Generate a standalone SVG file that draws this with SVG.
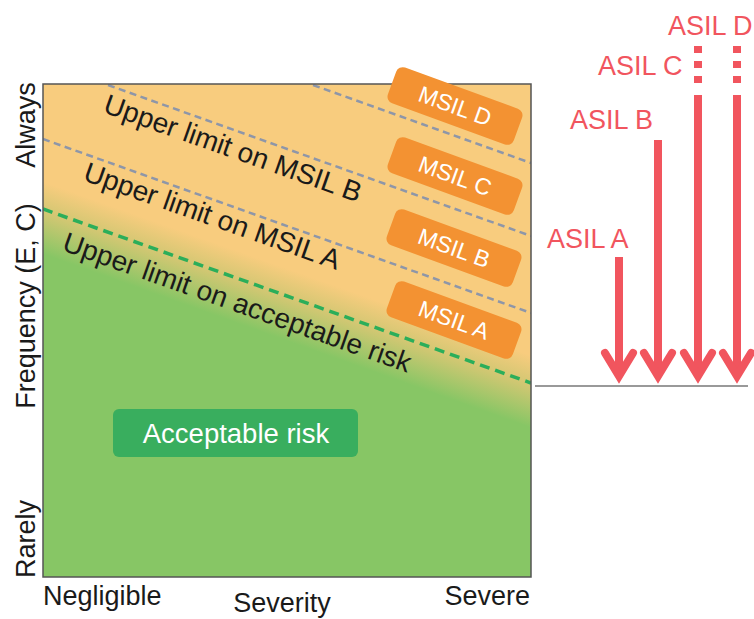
<svg xmlns="http://www.w3.org/2000/svg" width="754" height="619" viewBox="0 0 754 619">
  <style>
    text { font-family: "Liberation Sans", Arial, sans-serif; }
    .lbl { font-size: 27px; fill: #1a1a1a; }
    .diag { font-size: 28px; fill: #1a1a1a; }
    .msil rect { fill: #F39232; }
    .msil text { font-size: 23px; fill: #ffffff; text-anchor: middle; }
    .asil { font-size: 27px; fill: #F1555E; }
    .grey { stroke: #8E96A8; stroke-width: 2.5; stroke-dasharray: 7 4.5; fill: none; }
    .green { stroke: #2BAE5A; stroke-width: 3.5; stroke-dasharray: 10 6; fill: none; }
    .shaft { stroke: #F1555E; stroke-width: 8; fill: none; }
    .dash { stroke: #F1555E; stroke-width: 8; fill: none; stroke-dasharray: 7 8; }
    .head { stroke: #F1555E; stroke-width: 8; fill: none; stroke-linecap: round; stroke-linejoin: miter; }
  </style>
  <defs>
    <linearGradient id="bg" gradientUnits="userSpaceOnUse" x1="59.8" y1="161.9" x2="22.9" y2="265.5">
      <stop offset="0.22" stop-color="#F8CC7E"/>
      <stop offset="0.47" stop-color="#D4C773"/>
      <stop offset="0.84" stop-color="#87C665"/>
    </linearGradient>
    <clipPath id="plot">
      <rect x="43" y="84" width="488" height="493"/>
    </clipPath>
    <polyline id="arrowhead" points="-14,-23 0,0 14,-23" class="head"/>
  </defs>

  <!-- plot background -->
  <g id="plot-area">
    <rect x="43" y="84" width="488" height="493" fill="url(#bg)"/>
  </g>

  <!-- limit lines -->
  <g id="connectors" clip-path="url(#plot)">
    <line class="grey" x1="313" y1="85" x2="531" y2="163"/>
    <line class="grey" x1="108" y1="85" x2="531" y2="236"/>
    <line class="grey" x1="43" y1="139" x2="531" y2="313"/>
    <line class="green" x1="43" y1="209" x2="531" y2="383"/>
  </g>

  <rect x="43" y="84" width="488" height="493" fill="none" stroke="#555555" stroke-width="1.5"/>

  <g id="label-msil-b">
    <text class="diag" transform="translate(102,112) rotate(19.5)">Upper limit on MSIL B</text>
  </g>
  <g id="label-msil-a">
    <text class="diag" transform="translate(82,180) rotate(19.5)">Upper limit on MSIL A</text>
  </g>
  <g id="label-acceptable">
    <text class="diag" transform="translate(61,250) rotate(19.5)">Upper limit on acceptable risk</text>
  </g>

  <g id="msil-d" class="msil" transform="translate(455,106) rotate(20)">
    <rect x="-67" y="-19" width="134" height="38" rx="7"/>
    <text x="0" y="8">MSIL D</text>
  </g>
  <g id="msil-c" class="msil" transform="translate(455,176) rotate(20)">
    <rect x="-67" y="-19" width="134" height="38" rx="7"/>
    <text x="0" y="8">MSIL C</text>
  </g>
  <g id="msil-b" class="msil" transform="translate(454,248) rotate(20)">
    <rect x="-67" y="-19" width="134" height="38" rx="7"/>
    <text x="0" y="8">MSIL B</text>
  </g>
  <g id="msil-a" class="msil" transform="translate(454,320) rotate(20)">
    <rect x="-67" y="-19" width="134" height="38" rx="7"/>
    <text x="0" y="8">MSIL A</text>
  </g>

  <g id="acceptable-risk">
    <rect x="113" y="409" width="245" height="48" rx="6" fill="#39AE5E"/>
    <text x="236" y="443" font-size="27.5" fill="#ffffff" text-anchor="middle">Acceptable risk</text>
  </g>

  <!-- axis labels -->
  <g id="axis-y">
    <text class="lbl" text-anchor="middle" transform="translate(35,125) rotate(-90)">Always</text>
    <text class="lbl" text-anchor="middle" transform="translate(35,306) rotate(-90)" font-size="28">Frequency (E, C)</text>
    <text class="lbl" text-anchor="middle" transform="translate(35,539) rotate(-90)">Rarely</text>
  </g>
  <g id="axis-x">
    <text class="lbl" x="43" y="605">Negligible</text>
    <text class="lbl" x="282" y="612" text-anchor="middle">Severity</text>
    <text class="lbl" x="530" y="605" text-anchor="end">Severe</text>
  </g>

  <!-- ASIL arrows -->
  <g id="asil-baseline">
    <line x1="535" y1="386" x2="748" y2="386" stroke="#999999" stroke-width="2"/>
  </g>
  <g id="asil-a">
    <text class="asil" x="547" y="248">ASIL A</text>
    <line class="shaft" x1="619" y1="257" x2="619" y2="376"/>
    <use href="#arrowhead" transform="translate(619,376)"/>
  </g>
  <g id="asil-b">
    <text class="asil" x="570" y="129">ASIL B</text>
    <line class="shaft" x1="658" y1="140" x2="658" y2="376"/>
    <use href="#arrowhead" transform="translate(658,376)"/>
  </g>
  <g id="asil-c">
    <text class="asil" x="598" y="75">ASIL C</text>
    <line class="dash" x1="698" y1="46" x2="698" y2="84"/>
    <line class="shaft" x1="698" y1="95" x2="698" y2="376"/>
    <use href="#arrowhead" transform="translate(698,376)"/>
  </g>
  <g id="asil-d">
    <text class="asil" x="668" y="35">ASIL D</text>
    <line class="dash" x1="737" y1="46" x2="737" y2="84"/>
    <line class="shaft" x1="737" y1="95" x2="737" y2="376"/>
    <use href="#arrowhead" transform="translate(737,376)"/>
  </g>
</svg>
